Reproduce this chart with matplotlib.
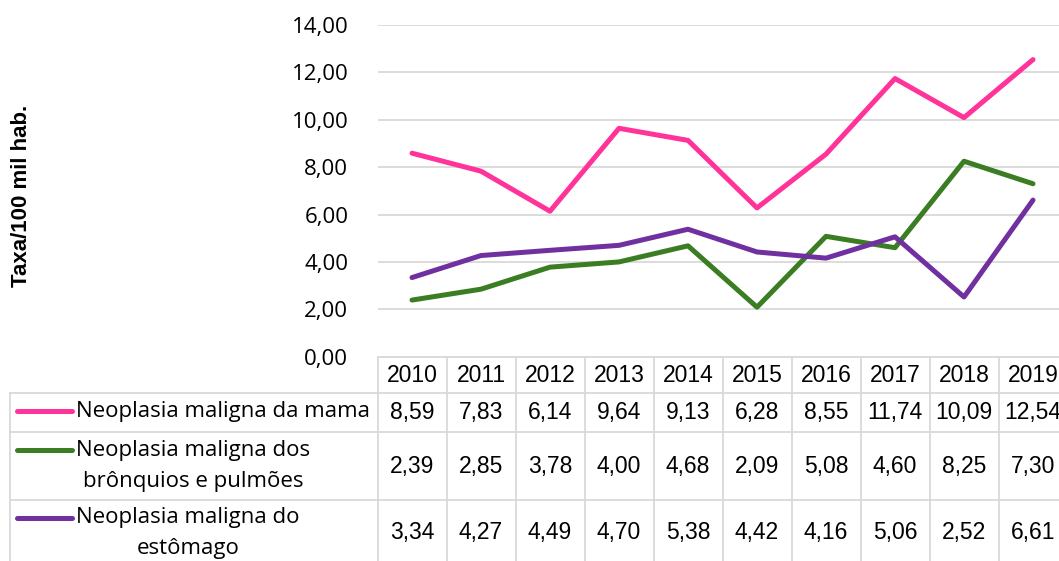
import matplotlib
matplotlib.use("Agg")
import matplotlib.pyplot as plt
import numpy as np
from matplotlib.lines import Line2D

years = ["2010", "2011", "2012", "2013", "2014", "2015", "2016", "2017", "2018", "2019"]
mama = [8.59, 7.83, 6.14, 9.64, 9.13, 6.28, 8.55, 11.74, 10.09, 12.54]
pulmao = [2.39, 2.85, 3.78, 4.00, 4.68, 2.09, 5.08, 4.60, 8.25, 7.30]
estomago = [3.34, 4.27, 4.49, 4.70, 5.38, 4.42, 4.16, 5.06, 2.52, 6.61]
series_labels = ["Neoplasia maligna da mama",
                 "Neoplasia maligna dos\nbrônquios e pulmões",
                 "Neoplasia maligna do\nestômago"]
colors = ["#FF3399", "#3A7D22", "#7030A0"]
yticks = [0, 2, 4, 6, 8, 10, 12, 14]

W, H = 1059, 561
fig = plt.figure(figsize=(W / 100, H / 100), dpi=100)

# layout in pixels (from top-left)
left, top, bottom = 377.5, 25, 356.7
colw = 69.0
right = left + colw * 10
ax = fig.add_axes([left / W, 1 - bottom / H, (right - left) / W, (bottom - top) / H])

x = np.arange(len(years))
for vals, c in zip([mama, pulmao, estomago], colors):
    ax.plot(x, vals, color=c, lw=3.6, solid_capstyle="round", solid_joinstyle="round")

ax.set_xlim(-0.5, len(years) - 0.5)
ax.set_ylim(0, 14)
ax.set_yticks(yticks)
ax.set_yticklabels([f"{v:.2f}".replace(".", ",") for v in yticks],
                   fontsize=16, family="Open Sans")
ax.tick_params(axis="y", length=0, pad=21)
ax.set_xticks([])
for s in ax.spines.values():
    s.set_visible(False)
ax.grid(axis="y", color="#D9D9D9", lw=1.3)
ax.set_axisbelow(True)

fig.text(22 / W, 1 - 196 / H, "Taxa/100 mil hab.", rotation=90, ha="center", va="center",
         fontsize=16, fontweight="bold", family="Liberation Sans")

grid_c = "#D9D9D9"
def hline(y, x0, x1):
    fig.add_artist(Line2D([x0 / W, x1 / W], [1 - y / H, 1 - y / H], color=grid_c, lw=1.3,
                          transform=fig.transFigure))
def vline(xp, y0, y1):
    fig.add_artist(Line2D([xp / W, xp / W], [1 - y0 / H, 1 - y1 / H], color=grid_c, lw=1.3,
                          transform=fig.transFigure))

row_edges = [357, 393, 432, 500, 568]
hline(row_edges[0], left, right)
for y in row_edges[1:4]:
    hline(y, 10, right)
vline(10, row_edges[1], H)
for i in range(len(years) + 1):
    vline(left + i * colw, row_edges[0], H)

def ftext(xp, yp, s, ha="center", **kw):
    fig.text(xp / W, 1 - yp / H, s, ha=ha, va="center", **kw)

num_font = dict(fontsize=16.5, family="Liberation Sans")
for i, yr in enumerate(years):
    ftext(left + (i + 0.5) * colw, 376, yr, **num_font)

row_centers = [412, 466, 533]
label_centers = [411, 466, 533]
key_y = [411, 450, 518]
for r, (vals, c) in enumerate(zip([mama, pulmao, estomago], colors)):
    for i, v in enumerate(vals):
        ftext(left + (i + 0.5) * colw, row_centers[r], f"{v:.2f}".replace(".", ","), **num_font)
    ftext(76, label_centers[r], series_labels[r], ha="left", multialignment="center",
          fontsize=16, family="Open Sans", linespacing=1.6)
    y0 = key_y[r]
    fig.add_artist(Line2D([17 / W, 72 / W], [1 - y0 / H, 1 - y0 / H], color=c, lw=3.6,
                          solid_capstyle="round", transform=fig.transFigure))

fig.savefig("out.png", dpi=100)
